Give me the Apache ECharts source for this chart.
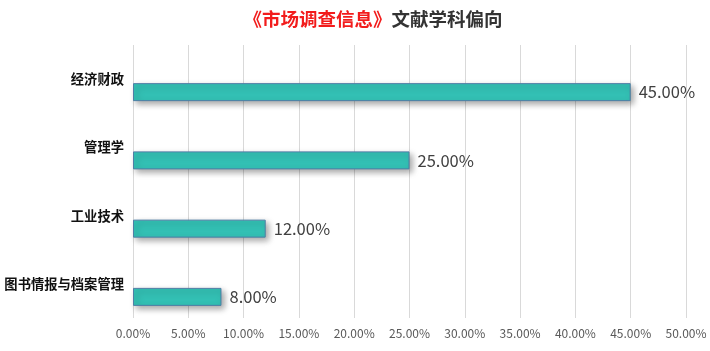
<!DOCTYPE html>
<html>
<head>
<meta charset="utf-8">
<script src="https://cdn.jsdelivr.net/npm/echarts@6/dist/echarts.min.js"></script>
<style>
  html, body { margin: 0; padding: 0; background: #fff; }
  #chart { width: 710px; height: 351px; }
</style>
</head>
<body>
<div id="chart"></div>
<script>
const categories = ['经济财政', '管理学', '工业技术', '图书情报与档案管理']
const shares = [45, 25, 12, 8]
const xMax = 50
const xStep = 5

const font = '"Noto Sans CJK SC", "Noto Sans", sans-serif'
const pct = (v) => Number(v).toFixed(2) + '%'

const chart = echarts.init(document.getElementById('chart'))

// two grids: the first holds the axes and labels, the second holds the bars
// (bars sit a bit lower than the category labels in the original)
chart.setOption({
  animation: false,
  title: {
    text: '{red|《市场调查信息》}{dark|文献学科偏向}',
    left: 368,
    top: 5,
    textAlign: 'center',
    textStyle: {
      rich: {
        red: { color: '#f21c1c', fontSize: 18.5, fontWeight: 'bold', fontFamily: font },
        dark: { color: '#333333', fontSize: 18.5, fontWeight: 'bold', fontFamily: font },
      },
    },
  },
  grid: [
    { left: 133, right: 24, top: 45, bottom: 33 },
    { left: 133, right: 24, top: 58, bottom: 20 },
  ],
  xAxis: [
    {
      gridIndex: 0,
      type: 'value',
      min: 0,
      max: xMax,
      interval: xStep,
      axisLine: { show: false },
      axisTick: { show: false },
      splitLine: { lineStyle: { color: '#d9d9d9' } },
      axisLabel: {
        formatter: pct,
        color: '#595959',
        fontSize: 12,
        fontFamily: font,
        margin: 9,
      },
    },
    {
      gridIndex: 1,
      type: 'value',
      min: 0,
      max: xMax,
      show: false,
      splitLine: { show: false },
    },
  ],
  yAxis: [
    {
      gridIndex: 0,
      type: 'category',
      inverse: true,
      data: categories,
      axisLine: { show: false },
      axisTick: { show: false },
      axisLabel: {
        color: '#111',
        fontSize: 13.3,
        fontWeight: 'bold',
        fontFamily: font,
        margin: 9,
      },
    },
    {
      gridIndex: 1,
      type: 'category',
      inverse: true,
      data: categories,
      show: false,
    },
  ],
  series: [
    {
      type: 'bar',
      xAxisIndex: 1,
      yAxisIndex: 1,
      data: shares,
      barWidth: 18,
      itemStyle: {
        color: '#33c0b4',
        borderColor: '#4f7ea6',
        borderWidth: 1,
        shadowColor: 'rgba(0, 0, 0, 0.35)',
        shadowBlur: 6,
        shadowOffsetX: 3,
        shadowOffsetY: 3,
      },
      label: {
        show: true,
        position: 'right',
        distance: 8,
        formatter: (p) => pct(p.value),
        color: '#404040',
        fontSize: 16.5,
        fontFamily: font,
      },
    },
  ],
})
</script>
</body>
</html>
